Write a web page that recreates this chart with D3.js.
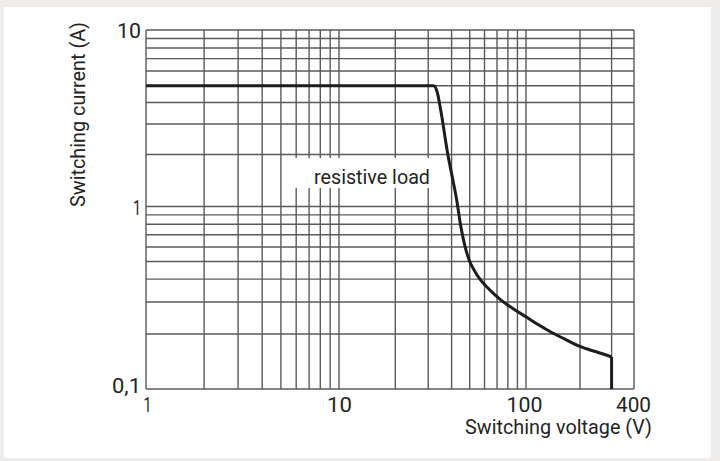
<!DOCTYPE html>
<html>
<head>
<meta charset="utf-8">
<script src="https://cdn.jsdelivr.net/npm/d3@7"></script>
<style>
  html, body { margin: 0; padding: 0; background: #efedeb; }
  svg { display: block; }
  text { font-family: Roboto, "Noto Sans", sans-serif; fill: #242424; }
</style>
</head>
<body>
<svg id="chart" width="720" height="461"></svg>
<script>
// ---- data ----
const voltageTicks = [1, 10, 100, 400];
const voltageTickLabels = ["1", "10", "100", "400"];
const currentTicks = [0.1, 1, 10];
const currentTickLabels = ["0,1", "1", "10"];
const voltageGrid = [1,2,3,4,5,6,7,8,9,10,20,30,40,50,60,70,80,90,100,200,300,400];
const currentGrid = [0.1,0.2,0.3,0.4,0.5,0.6,0.7,0.8,0.9,1,2,3,4,5,6,7,8,9,10];
const curveVoltage = [1, 32, 33.5, 35, 38.2, 40.5, 42.6, 44.6, 46, 47.5, 50, 53, 56.7, 62, 68, 75, 85, 100, 118, 136, 165, 200, 240, 275, 300];
const curveCurrent = [5, 5, 4.6, 3.6, 2.0, 1.45, 1.09, 0.8, 0.68, 0.59, 0.5, 0.445, 0.4, 0.361, 0.329, 0.302, 0.276, 0.2485, 0.224, 0.2065, 0.1875, 0.171, 0.161, 0.1545, 0.150];
const cutoffVoltage = 300;
const xTitle = "Switching voltage (V)";
const yTitle = "Switching current (A)";
const noteText = "resistive load";

// ---- layout ----
const svg = d3.select("#chart");
svg.append("rect").attr("x", 4).attr("y", 7).attr("width", 707).attr("height", 451).attr("fill", "#ffffff");

const x = d3.scaleLog().domain([1, 10, 100, 400]).range([146, 339, 526, 634]);
const y = d3.scaleLog().domain([0.1, 1, 5, 10]).range([389, 206.5, 85.7, 30]);

const gridColor = "#5a5a5a";
const g = svg.append("g");

g.selectAll("line.v").data(voltageGrid).enter().append("line")
  .attr("class", "v")
  .attr("x1", d => x(d)).attr("x2", d => x(d))
  .attr("y1", y(0.1)).attr("y2", y(10))
  .attr("stroke", gridColor).attr("stroke-width", 1.4);

g.selectAll("line.h").data(currentGrid).enter().append("line")
  .attr("class", "h")
  .attr("y1", d => y(d)).attr("y2", d => y(d))
  .attr("x1", x(1)).attr("x2", x(400))
  .attr("stroke", gridColor).attr("stroke-width", 1.4);

// white box behind annotation
svg.append("rect")
  .attr("x", 290).attr("y", 158).attr("width", 142).attr("height", 30)
  .attr("fill", "#ffffff");

// curve
const pts = curveVoltage.map((v, i) => [v, curveCurrent[i]]);
const smooth = d3.line().x(d => x(d[0])).y(d => y(d[1])).curve(d3.curveMonotoneX);
const straight = d3.line().x(d => x(d[0])).y(d => y(d[1]));
const last = pts[pts.length - 1];
svg.append("path").datum(pts)
  .attr("d", smooth)
  .attr("fill", "none").attr("stroke", "#1c1c1c").attr("stroke-width", 3)
  .attr("stroke-linejoin", "round");
svg.append("path").datum([last, [cutoffVoltage, 0.1]])
  .attr("d", straight)
  .attr("fill", "none").attr("stroke", "#1c1c1c").attr("stroke-width", 3);

// x axis labels
const xAxis = d3.axisBottom(x).tickValues(voltageTicks)
  .tickFormat((d, i) => voltageTickLabels[i]).tickSize(0).tickPadding(0);
const xg = svg.append("g").attr("transform", `translate(0, ${y(0.1)})`).call(xAxis);
xg.select(".domain").remove();
xg.selectAll("text").attr("y", 23).attr("dy", 0)
  .attr("font-size", 21).attr("font-family", "Roboto, sans-serif").attr("fill", "#242424")
  .attr("textLength", (d, i) => [8, 25, 36, 35][i]).attr("lengthAdjust", "spacingAndGlyphs")
  .attr("dx", (d, i) => [1, 0, -2, -1][i]);

// y axis labels
const yAxis = d3.axisLeft(y).tickValues(currentTicks)
  .tickFormat((d, i) => currentTickLabels[i]).tickSize(0).tickPadding(0);
const yg = svg.append("g").attr("transform", `translate(${x(1) - 5}, 0)`).call(yAxis);
yg.select(".domain").remove();
yg.selectAll("text").attr("dy", 0)
  .attr("font-size", 21).attr("font-family", "Roboto, sans-serif").attr("fill", "#242424")
  .attr("textLength", (d, i) => [29, 8, 24][i]).attr("lengthAdjust", "spacingAndGlyphs")
  .attr("y", (d, i) => [3, 8, 7][i]);

// axis titles
svg.append("text")
  .attr("x", 652).attr("y", 434).attr("text-anchor", "end")
  .attr("font-size", 21)
  .attr("textLength", 187).attr("lengthAdjust", "spacingAndGlyphs")
  .text(xTitle);

svg.append("text")
  .attr("transform", "translate(85, 207) rotate(-90)")
  .attr("x", 0).attr("y", 0).attr("text-anchor", "start")
  .attr("font-size", 21)
  .attr("textLength", 185).attr("lengthAdjust", "spacingAndGlyphs")
  .text(yTitle);

// annotation
svg.append("text")
  .attr("x", 314).attr("y", 183.5)
  .attr("font-size", 21)
  .attr("textLength", 116).attr("lengthAdjust", "spacingAndGlyphs")
  .text(noteText);
</script>
</body>
</html>
